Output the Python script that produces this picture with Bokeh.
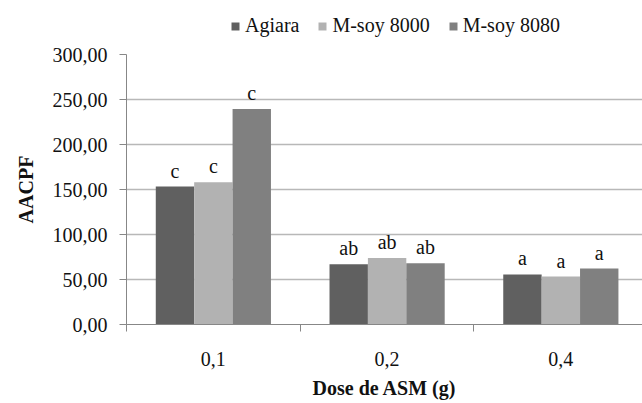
from bokeh.plotting import figure
from bokeh.layouts import column
from bokeh.models import Range1d, FixedTicker, ColumnDataSource, Legend, LegendItem
from bokeh.core.properties import value
from bokeh.embed import file_html
from bokeh.resources import INLINE

# ---- data ----
doses = ["0,1", "0,2", "0,4"]
series = ["Agiara", "M-soy 8000", "M-soy 8080"]
agiara = [153.3, 67.0, 55.6]
msoy8000 = [158.1, 74.0, 53.3]
msoy8080 = [239.5, 68.1, 62.2]
letters_agiara = ["c", "ab", "a"]
letters_msoy8000 = ["c", "ab", "a"]
letters_msoy8080 = ["c", "ab", "a"]
y_ticks = [0, 50, 100, 150, 200, 250, 300]
y_tick_labels = ["0,00", "50,00", "100,00", "150,00", "200,00", "250,00", "300,00"]

colors = ["#606060", "#b2b2b2", "#808080"]
FONT = "Liberation Serif, serif"
AXIS_COLOR = "#878787"
GRID_COLOR = "#b8b8b8"

values_by_series = [agiara, msoy8000, msoy8080]
letters_by_series = [letters_agiara, letters_msoy8000, letters_msoy8080]

bar_w = 0.221
offsets = [-bar_w, 0.0, bar_w]
centers = [i + 0.5 for i in range(len(doses))]

# ---- legend strip (top) ----
lf = figure(width=642, height=40, output_backend="svg", toolbar_location=None,
            x_range=Range1d(0, 1), y_range=Range1d(0, 1), min_border=0)
lf.axis.visible = False
lf.grid.grid_line_color = None
lf.outline_line_color = None
lf.background_fill_color = "white"
lf.border_fill_color = "white"

# ---- main chart ----
p = figure(width=642, height=363, output_backend="svg", toolbar_location=None,
           x_range=Range1d(0, 2.97), y_range=Range1d(0, 300),
           min_border_left=126, min_border_right=0, min_border_top=14, min_border_bottom=79)
p.outline_line_color = None
p.background_fill_color = "white"
p.border_fill_color = "white"

items = []
for name, vals, lets, col, off in zip(series, values_by_series, letters_by_series, colors, offsets):
    src = ColumnDataSource(dict(x=[c + off for c in centers], top=vals, lab=lets))
    p.vbar(x="x", top="top", width=bar_w, bottom=0, source=src,
           fill_color=col, line_color=None)
    p.text(x="x", y="top", text="lab", source=src, text_align="center",
           text_baseline="alphabetic", y_offset=-16,
           text_font=value(FONT), text_font_size="20px", text_color="#111111")
    # legend key (zero-height, off-range bar only used for the legend swatch)
    key = lf.vbar(x=[-5], top=[0], bottom=[0], width=0.1, fill_color=col, line_color=None)
    items.append(LegendItem(label=name, renderers=[key]))

legend = Legend(items=items, orientation="horizontal", location=(104, 3),
                glyph_width=10, glyph_height=10, label_standoff=5, spacing=18,
                padding=0, margin=0, border_line_color=None, background_fill_alpha=0,
                label_text_font=FONT, label_text_font_size="20px", label_text_color="#111111")
lf.add_layout(legend)

# y axis
p.yaxis.ticker = FixedTicker(ticks=y_ticks)
p.yaxis.major_label_overrides = {t: l for t, l in zip(y_ticks, y_tick_labels)}
p.yaxis.major_label_text_font = FONT
p.yaxis.major_label_text_font_size = "20px"
p.yaxis.major_label_text_color = "#111111"
p.yaxis.major_label_standoff = 12
p.yaxis.major_tick_out = 7
p.yaxis.major_tick_in = 0
p.yaxis.minor_tick_line_color = None
p.yaxis.axis_line_color = AXIS_COLOR
p.yaxis.major_tick_line_color = AXIS_COLOR
p.yaxis.axis_label = "AACPF"
p.yaxis.axis_label_text_font = FONT
p.yaxis.axis_label_text_font_style = "bold"
p.yaxis.axis_label_text_font_size = "20px"
p.yaxis.axis_label_text_color = "#111111"
p.yaxis.axis_label_standoff = 13

# x axis
p.xaxis.ticker = FixedTicker(ticks=centers, minor_ticks=[0, 1, 2, 3])
p.xaxis.major_label_overrides = {c: d for c, d in zip(centers, doses)}
p.xaxis.major_tick_line_color = None
p.xaxis.major_tick_out = 0
p.xaxis.major_tick_in = 0
p.xaxis.minor_tick_out = 7
p.xaxis.minor_tick_in = 0
p.xaxis.minor_tick_line_color = AXIS_COLOR
p.xaxis.axis_line_color = AXIS_COLOR
p.xaxis.major_label_text_font = FONT
p.xaxis.major_label_text_font_size = "20px"
p.xaxis.major_label_text_color = "#111111"
p.xaxis.major_label_standoff = 20
p.xaxis.axis_label = "Dose de ASM (g)"
p.xaxis.axis_label_text_font = FONT
p.xaxis.axis_label_text_font_style = "bold"
p.xaxis.axis_label_text_font_size = "20px"
p.xaxis.axis_label_text_color = "#111111"
p.xaxis.axis_label_standoff = 8

p.xgrid.grid_line_color = None
p.ygrid.ticker = FixedTicker(ticks=y_ticks)
p.ygrid.grid_line_color = GRID_COLOR
p.ygrid.grid_line_width = 1.5

layout = column(lf, p, spacing=0)
open("out.html", "w").write(file_html(layout, INLINE))
